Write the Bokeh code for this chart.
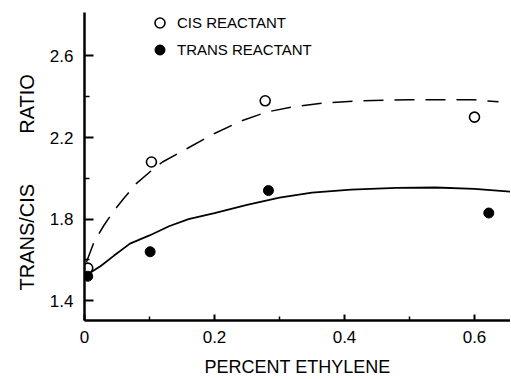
from bokeh.plotting import figure
from bokeh.models import Range1d, FixedTicker, Legend, LegendItem, Title
from bokeh.embed import file_html
from bokeh.resources import INLINE

# ---- data ----
cis_x = [0.005, 0.103, 0.278, 0.600]
cis_y = [1.56, 2.08, 2.38, 2.30]

trans_x = [0.005, 0.101, 0.283, 0.622]
trans_y = [1.52, 1.64, 1.94, 1.83]

cis_fit_x = [0.003, 0.015, 0.03, 0.045, 0.06, 0.08, 0.10, 0.12, 0.16, 0.20,
             0.24, 0.28, 0.32, 0.37, 0.42, 0.50, 0.60, 0.637]
cis_fit_y = [1.59, 1.69, 1.77, 1.84, 1.90, 1.975, 2.03, 2.08, 2.15, 2.22,
             2.28, 2.325, 2.35, 2.37, 2.38, 2.385, 2.385, 2.375]

trans_fit_x = [0.005, 0.025, 0.045, 0.07, 0.10, 0.13, 0.16, 0.20, 0.25, 0.30,
               0.35, 0.41, 0.48, 0.54, 0.60, 0.655]
trans_fit_y = [1.53, 1.57, 1.62, 1.68, 1.72, 1.765, 1.80, 1.83, 1.87, 1.905,
               1.93, 1.945, 1.953, 1.955, 1.948, 1.935]

x_ticks = [0, 0.2, 0.4, 0.6]
x_tick_labels = ["0", "0.2", "0.4", "0.6"]
x_minor = [0.1, 0.3, 0.5]
y_ticks = [1.4, 1.8, 2.2, 2.6]
y_tick_labels = ["1.4", "1.8", "2.2", "2.6"]
y_minor = [1.6, 2.0, 2.4]

legend_labels = ["CIS REACTANT", "TRANS REACTANT"]
x_title = "PERCENT ETHYLENE"
# wide gap between the two words (non-collapsing spaces)
y_title = "TRANS/CIS " + "\u00a0" * 8 + "RATIO"

FONT = "Liberation Sans"

p = figure(width=510, height=379, output_backend="svg", toolbar_location=None,
           x_range=Range1d(0.0, 0.6554), y_range=Range1d(1.303, 2.813),
           min_border_left=84, min_border_right=0, min_border_top=12,
           min_border_bottom=57)
p.outline_line_color = None
p.xgrid.visible = False
p.ygrid.visible = False
p.background_fill_color = "white"
p.border_fill_color = "white"

# curves
p.line(cis_fit_x, cis_fit_y, line_color="black", line_width=1.5, line_dash="20 11")
p.line(trans_fit_x, trans_fit_y, line_color="black", line_width=1.8)

# points
r_cis = p.scatter(cis_x, cis_y, marker="circle", size=10, fill_color="white",
                  line_color="black", line_width=1.6)
r_trans = p.scatter(trans_x, trans_y, marker="circle", size=10, fill_color="black",
                    line_color="black", line_width=1)

# axes
xa = p.xaxis[0]
xa.ticker = FixedTicker(ticks=x_ticks, minor_ticks=x_minor)
xa.major_label_overrides = {t: l for t, l in zip(x_ticks, x_tick_labels)}
ya = p.yaxis[0]
ya.ticker = FixedTicker(ticks=y_ticks, minor_ticks=y_minor)
ya.major_label_overrides = {t: l for t, l in zip(y_ticks, y_tick_labels)}

for ax in (xa, ya):
    ax.axis_line_width = 2.5
    ax.axis_line_color = "black"
    ax.major_tick_line_color = "black"
    ax.minor_tick_line_color = "black"
    ax.major_tick_line_width = 2
    ax.minor_tick_line_width = 1.5
    ax.major_tick_out = 0
    ax.minor_tick_out = 0
    ax.major_label_text_font = FONT
    ax.major_label_text_font_size = "17px"
    ax.major_label_text_color = "black"
xa.major_tick_in = 6
xa.minor_tick_in = 4
ya.major_tick_in = 9
ya.minor_tick_in = 5
xa.major_label_standoff = 10
ya.major_label_standoff = 11

xa.axis_label = x_title
xa.axis_label_text_font = FONT
xa.axis_label_text_font_size = "18px"
xa.axis_label_text_font_style = "normal"
xa.axis_label_text_color = "black"
xa.axis_label_standoff = 11

# y title in the left margin, anchored at its lower end
p.add_layout(Title(text=y_title, align="left", offset=30, standoff=18,
                   text_font=FONT, text_font_size="20px", text_font_style="normal",
                   text_color="black"), "left")

legend = Legend(items=[LegendItem(label=legend_labels[0], renderers=[r_cis]),
                       LegendItem(label=legend_labels[1], renderers=[r_trans])],
                location=(63, 258), orientation="vertical",
                glyph_width=25, glyph_height=25, spacing=2, padding=0, margin=0,
                label_standoff=5, label_text_font=FONT, label_text_font_size="15px",
                label_text_color="black", border_line_color=None,
                background_fill_alpha=0)
p.add_layout(legend)

open("out.html", "w").write(file_html(p, INLINE))
